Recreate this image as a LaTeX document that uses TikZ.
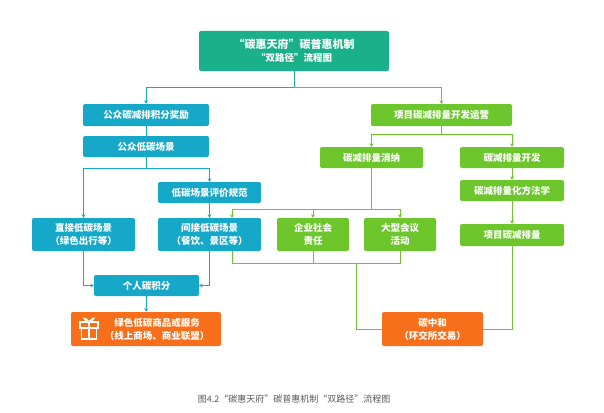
\documentclass[tikz,border=0pt]{standalone}
\usepackage{fontspec}
\setmainfont{Noto Sans CJK SC}
\usetikzlibrary{arrows.meta}
\definecolor{cteal}{HTML}{19B08A}
\definecolor{cblue}{HTML}{16A8C8}
\definecolor{cgreen}{HTML}{6CC62C}
\definecolor{corange}{HTML}{F76F1A}
\begin{document}
\begin{tikzpicture}[x=1pt,y=-1pt,
 box/.style={draw=none,rounded corners=2pt,text=white,font=\fontsize{9.5}{13}\selectfont\bfseries,align=center,inner sep=0pt},
 bl/.style={box,fill=cblue},gr/.style={box,fill=cgreen},
 bline/.style={cblue,line width=1pt},gline/.style={cgreen,line width=1pt},
 arr/.style={-{Stealth[length=3.5pt,width=4pt]}}]
\useasboundingbox (0,0) rectangle (604,412);
\def\bx#1#2#3#4#5#6#7{\node[#2,minimum width=#5-#3,minimum height=#6-#4] (#1) at ({(#3+#5)/2},{(#4+#6)/2}) {#7};}
\bx{top}{box,fill=cteal}{199}{31}{389}{71}{\fontsize{11}{16}\selectfont “碳惠天府”碳普惠机制\\“双路径”流程图}
\bx{A}{bl}{83}{104}{209}{126}{公众碳减排积分奖励}
\bx{B}{bl}{83}{136}{209}{157}{公众低碳场景}
\bx{C}{bl}{158}{182}{261}{203}{低碳场景评价规范}
\bx{D}{bl}{32}{218}{135}{251}{直接低碳场景\\（绿色出行等）}
\bx{E}{bl}{158}{218}{261}{251}{间接低碳场景\\（餐饮、景区等）}
\bx{F}{bl}{94}{275}{199}{296}{个人碳积分}
\bx{G}{box,fill=corange}{71}{312}{221}{346}{\hspace*{22pt}绿色低碳商品或服务\\\hspace*{22pt}（线上商场、商业联盟）}
\bx{H}{gr}{371}{104}{512}{126}{项目碳减排量开发运营}
\bx{I}{gr}{320}{147}{423}{168}{碳减排量消纳}
\bx{J}{gr}{460}{147}{564}{168}{碳减排量开发}
\bx{K}{gr}{460}{180}{564}{201}{碳减排量化方法学}
\bx{L}{gr}{460}{224}{564}{246}{项目碳减排量}
\bx{M}{gr}{277}{218}{349}{251}{企业社会\\责任}
\bx{N}{gr}{364}{218}{436}{251}{大型会议\\活动}
\bx{O}{box,fill=corange}{382}{312}{483}{346}{碳中和\\（环交所交易）}
% gift icon
\begin{scope}[white,line width=1.2pt]
\draw (80,322) rectangle (98,328);
\draw (81.5,328) rectangle (96.5,339);
\draw (89,322) -- (89,339);
\draw (89,322) .. controls (84,315) and (81,319) .. (89,322);
\draw (89,322) .. controls (94,315) and (97,319) .. (89,322);
\end{scope}
% top
\draw[cteal,line width=1pt] (top.south) -- (294,87);
\draw[bline,arr] (294,87) -| (A.north);
\draw[gline,arr] (294,87) -| (441.5,104);
% left
\draw[bline] (A) -- (B);
\draw[bline] (B.south) -- (146,168);
\draw[bline,arr] (146,168) -| (D.north);
\draw[bline,arr] (146,168) -| (C.north);
\draw[bline,arr] (C) -- (E);
\draw[bline,arr] (D.south) |- (F.west);
\draw[bline,arr] (E.south) |- (F.east);
\draw[bline,arr] (F) -- (G);
% right
\draw[gline] (H.south) -- (441.5,134);
\draw[gline,arr] (441.5,134) -| (I.north);
\draw[gline,arr] (441.5,134) -| (J.north);
\draw[gline,arr] (J) -- (K);
\draw[gline,arr] (K) -- (L);
\draw[gline] (I.south) -- (371.5,209);
\coordinate (ea) at (232,209);
\draw[gline,arr] (400,209) -- (ea) -- (232,218);
\draw[gline,arr] (313,209) -- (M.north);
\draw[gline,arr] (400,209) -- (N.north);
\draw[gline] (232,251) -- (232,263) -- (400,263) -- (N.south);
\draw[gline] (M.south) -- (313,263);
\draw[gline] (356,263) |- (O.west);
\draw[gline] (L.south) |- (O.east);
\node[font=\fontsize{9}{11}\selectfont,text=black!65] (cap) at (294,399) {图4.2“碳惠天府”碳普惠机制“双路径”流程图};
\end{tikzpicture}
\end{document}
